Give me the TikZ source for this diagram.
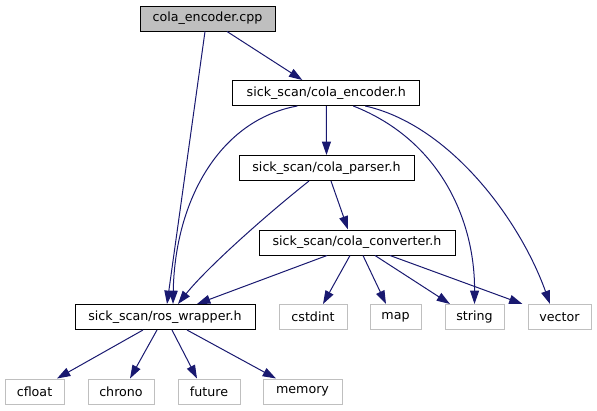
\documentclass[tikz,border=0pt]{standalone}
\usepackage{fontspec}
\setmainfont{DejaVu Sans}
\usetikzlibrary{arrows.meta}
\definecolor{edgeblue}{HTML}{191970}
\definecolor{extgrey}{HTML}{BFBFBF}
\tikzset{
  box/.style={draw=black, line width=0.75pt, rectangle, minimum height=25*0.75pt, inner sep=0pt, font=\fontsize{9.5}{11}\selectfont},
  extbox/.style={box, draw=extgrey},
  dep/.style={draw=edgeblue, line width=0.75pt, -{Triangle[length=10pt,width=6.7pt]}, edgeblue}
}
\begin{document}
\begin{tikzpicture}[x=0.75pt,y=-0.75pt]
\useasboundingbox (0,0) rectangle (597,411);
\node[box, fill=extgrey, minimum width=135*0.75pt] (cpp) at (207.5,18.5) {cola\_encoder.cpp};
\node[box, minimum width=187*0.75pt] (enc) at (326.3,93) {sick\_scan/cola\_encoder.h};
\node[box, minimum width=175*0.75pt] (par) at (326.5,168) {sick\_scan/cola\_parser.h};
\node[box, minimum width=196*0.75pt] (conv) at (357,242.5) {sick\_scan/cola\_converter.h};
\node[box, minimum width=180*0.75pt] (ros) at (165,317) {sick\_scan/ros\_wrapper.h};
\node[extbox, minimum width=68*0.75pt] (cstdint) at (313,317) {cstdint};
\node[extbox, minimum width=51*0.75pt] (map) at (395.5,317) {map};
\node[extbox, minimum width=59*0.75pt] (string) at (474.5,317) {string};
\node[extbox, minimum width=63*0.75pt] (vector) at (559.5,317) {vector};
\node[extbox, minimum width=59*0.75pt] (cfloat) at (34.5,391.5) {cfloat};
\node[extbox, minimum width=66*0.75pt] (chrono) at (121,391.5) {chrono};
\node[extbox, minimum width=62*0.75pt] (future) at (209,391.5) {future};
\node[extbox, minimum width=79*0.75pt] (memory) at (302.5,391.5) {memory};

\draw[dep] ([xshift=-2.5*0.75pt]cpp.south) -- ([xshift=2*0.75pt]ros.north);
\draw[dep] ([xshift=19.5*0.75pt]cpp.south) -- ([xshift=-24*0.75pt]enc.north);
\draw[dep] ([xshift=-29*0.75pt]enc.south) .. controls (220,120) and (175,200) .. ([xshift=8*0.75pt]ros.north);
\draw[dep] (enc.south) -- (par.north);
\draw[dep] ([xshift=27*0.75pt]enc.south) .. controls (440,140) and (475,220) .. (string.north);
\draw[dep] ([xshift=39*0.75pt]enc.south) .. controls (450,125) and (520,220) .. ([xshift=-9.5*0.75pt]vector.north);
\draw[dep] ([xshift=-17.5*0.75pt]par.south) .. controls (260,220) and (205,270) .. ([xshift=13*0.75pt]ros.north);
\draw[dep] ([xshift=4.5*0.75pt]par.south) -- ([xshift=-9*0.75pt]conv.north);
\draw[dep] ([xshift=-30*0.75pt]conv.south) -- ([xshift=32*0.75pt]ros.north);
\draw[dep] ([xshift=-7*0.75pt]conv.south) -- ([xshift=10*0.75pt]cstdint.north);
\draw[dep] ([xshift=6*0.75pt]conv.south) -- ([xshift=-9.5*0.75pt]map.north);
\draw[dep] ([xshift=18*0.75pt]conv.south) -- ([xshift=-24.5*0.75pt]string.north);
\draw[dep] ([xshift=33*0.75pt]conv.south) -- ([xshift=-5*0.75pt]vector.north west);
\draw[dep] ([xshift=-22*0.75pt]ros.south) -- ([xshift=22.5*0.75pt]cfloat.north);
\draw[dep] ([xshift=-8*0.75pt]ros.south) -- ([xshift=9*0.75pt]chrono.north);
\draw[dep] ([xshift=7*0.75pt]ros.south) -- ([xshift=-12*0.75pt]future.north);
\draw[dep] ([xshift=22*0.75pt]ros.south) -- ([xshift=-26.5*0.75pt]memory.north);
\end{tikzpicture}
\end{document}
